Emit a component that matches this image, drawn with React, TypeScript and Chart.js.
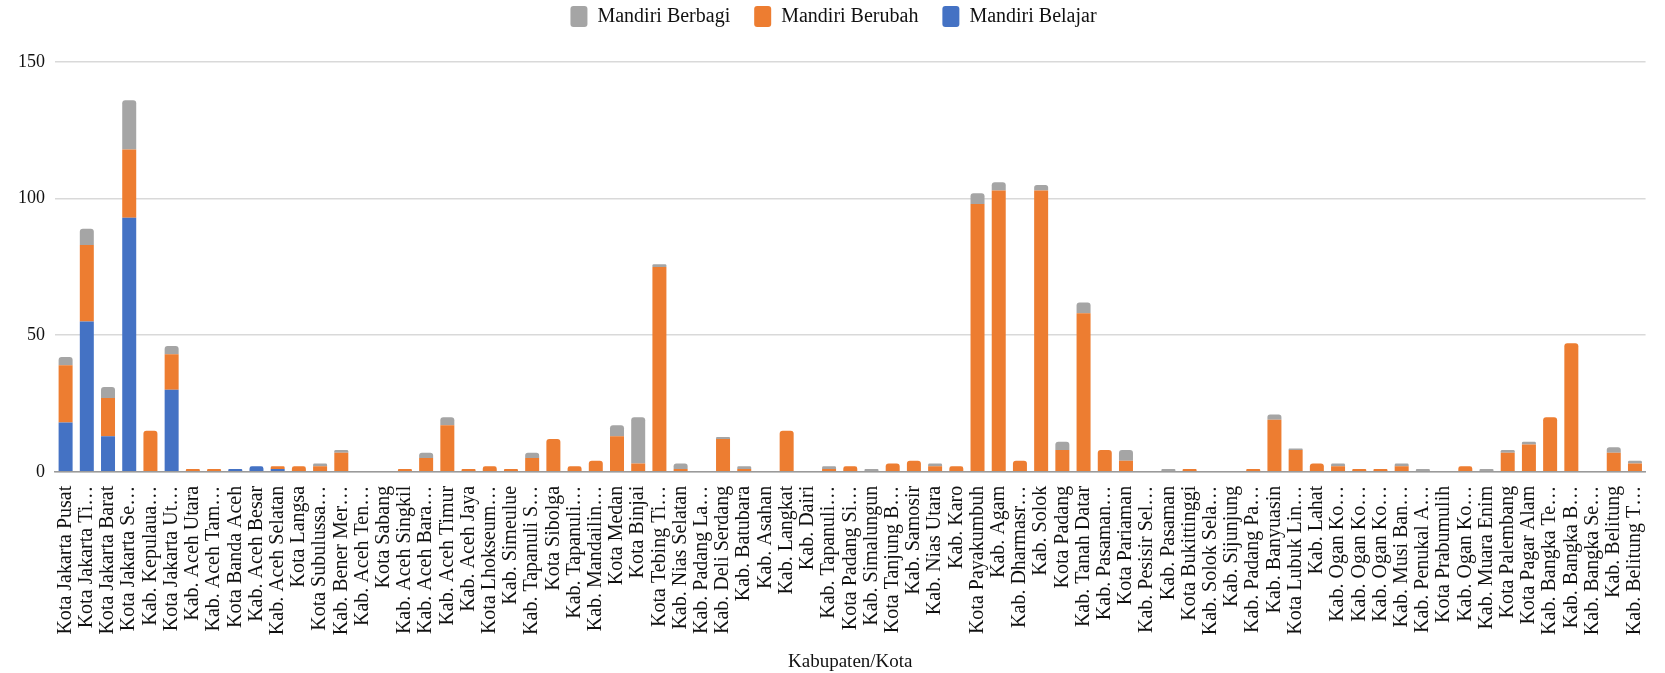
import React, { useEffect, useRef } from "react";
import { Chart, registerables } from "chart.js";

Chart.register(...registerables);

const categories: string[] = [
  "Kota Jakarta Pusat", "Kota Jakarta Ti…", "Kota Jakarta Barat", "Kota Jakarta Se…", "Kab. Kepulaua…",
  "Kota Jakarta Ut…", "Kab. Aceh Utara", "Kab. Aceh Tam…", "Kota Banda Aceh", "Kab. Aceh Besar",
  "Kab. Aceh Selatan", "Kota Langsa", "Kota Subulussa…", "Kab. Bener Mer…", "Kab. Aceh Ten…",
  "Kota Sabang", "Kab. Aceh Singkil", "Kab. Aceh Bara…", "Kab. Aceh Timur", "Kab. Aceh Jaya",
  "Kota Lhokseum…", "Kab. Simeulue", "Kab. Tapanuli S…", "Kota Sibolga", "Kab. Tapanuli…",
  "Kab. Mandailin…", "Kota Medan", "Kota Binjai", "Kota Tebing Ti…", "Kab. Nias Selatan",
  "Kab. Padang La…", "Kab. Deli Serdang", "Kab. Batubara", "Kab. Asahan", "Kab. Langkat",
  "Kab. Dairi", "Kab. Tapanuli…", "Kota Padang Si…", "Kab. Simalungun", "Kota Tanjung B…",
  "Kab. Samosir", "Kab. Nias Utara", "Kab. Karo", "Kota Payakumbuh", "Kab. Agam",
  "Kab. Dharmasr…", "Kab. Solok", "Kota Padang", "Kab. Tanah Datar", "Kab. Pasaman…",
  "Kota Pariaman", "Kab. Pesisir Sel…", "Kab. Pasaman", "Kota Bukittinggi", "Kab. Solok Sela…",
  "Kab. Sijunjung", "Kab. Padang Pa…", "Kab. Banyuasin", "Kota Lubuk Lin…", "Kab. Lahat",
  "Kab. Ogan Ko…", "Kab. Ogan Ko…", "Kab. Ogan Ko…", "Kab. Musi Ban…", "Kab. Penukal A…",
  "Kota Prabumulih", "Kab. Ogan Ko…", "Kab. Muara Enim", "Kota Palembang", "Kota Pagar Alam",
  "Kab. Bangka Te…", "Kab. Bangka B…", "Kab. Bangka Se…", "Kab. Belitung", "Kab. Belitung T…",
];

const mandiriBelajar: number[] = [
  18, 55, 13, 93, 0, 30, 0, 0, 1, 2,
  1, 0, 0, 0, 0, 0, 0, 0, 0, 0,
  0, 0, 0, 0, 0, 0, 0, 0, 0, 0,
  0, 0, 0, 0, 0, 0, 0, 0, 0, 0,
  0, 0, 0, 0, 0, 0, 0, 0, 0, 0,
  0, 0, 0, 0, 0, 0, 0, 0, 0, 0,
  0, 0, 0, 0, 0, 0, 0, 0, 0, 0,
  0, 0, 0, 0, 0,
];

const mandiriBerubah: number[] = [
  21, 28, 14, 25, 15, 13, 1, 1, 0, 0,
  1, 2, 2, 7, 0, 0, 1, 5, 17, 1,
  2, 1, 5, 12, 2, 4, 13, 3, 75, 1,
  0, 12, 1, 0, 15, 0, 1, 2, 0, 3,
  4, 2, 2, 98, 103, 4, 103, 8, 58, 8,
  4, 0, 0, 1, 0, 0, 1, 19, 8, 3,
  2, 1, 1, 2, 0, 0, 2, 0, 7, 10,
  20, 47, 0, 7, 3,
];

const mandiriBerbagi: number[] = [
  3, 6, 4, 18, 0, 3, 0, 0, 0, 0,
  0, 0, 1, 1, 0, 0, 0, 2, 3, 0,
  0, 0, 2, 0, 0, 0, 4, 17, 1, 2,
  0, 0.7, 1, 0, 0, 0, 1, 0, 1, 0,
  0, 1, 0, 4, 3, 0, 2, 3, 4, 0,
  4, 0, 1, 0, 0, 0, 0, 2, 0.5, 0,
  1, 0, 0, 1, 1, 0, 0, 1, 1, 1,
  0, 0, 0, 2, 1,
];

const yTicks: number[] = [0, 50, 100, 150];

const FONT = "'Liberation Serif', 'Times New Roman', serif";

const legendSpacer = {
  id: "legendSpacer",
  beforeInit(chart: any) {
    const legend = chart.legend;
    if (!legend) return;
    const origFit = legend.fit;
    legend.fit = function () {
      origFit.call(this);
      this.height += 25;
    };
  },
};

export default function App() {
  const ref = useRef<HTMLCanvasElement>(null);

  useEffect(() => {
    document.body.style.margin = "0";
    const ctx = ref.current;
    if (!ctx) return;
    const common = {
      barPercentage: 0.66,
      categoryPercentage: 1,
      borderRadius: 3,
      borderSkipped: "start" as const,
    };
    const chart = new Chart(ctx, {
      type: "bar",
      data: {
        labels: categories,
        datasets: [
          { label: "Mandiri Belajar", data: mandiriBelajar, backgroundColor: "#4472C4", ...common },
          { label: "Mandiri Berubah", data: mandiriBerubah, backgroundColor: "#ED7D31", ...common },
          { label: "Mandiri Berbagi", data: mandiriBerbagi, backgroundColor: "#A5A5A5", ...common },
        ],
      },
      plugins: [legendSpacer],
      options: {
        animation: false,
        responsive: true,
        maintainAspectRatio: false,
        layout: { padding: { left: 8, right: 6, top: -18, bottom: 0 } },
        plugins: {
          legend: {
            position: "top",
            reverse: true,
            labels: {
              font: { family: FONT, size: 20 },
              color: "#111",
              boxWidth: 17,
              boxHeight: 21,
              useBorderRadius: true,
              borderRadius: 3,
              padding: 24,
            },
          },
          tooltip: { enabled: false },
        },
        scales: {
          x: {
            stacked: true,
            grid: { display: false },
            border: { display: true, color: "#9a9a9a", width: 1.5 },
            ticks: {
              autoSkip: false,
              minRotation: 90,
              maxRotation: 90,
              font: { family: FONT, size: 20 },
              color: "#111",
              padding: 6,
            },
            title: {
              display: true,
              text: "Kabupaten/Kota",
              font: { family: FONT, size: 19 },
              color: "#111",
              padding: { top: 9, bottom: 0 },
            },
          },
          y: {
            stacked: true,
            min: 0,
            max: 150,
            afterBuildTicks: (axis: any) => {
              axis.ticks = yTicks.map((v) => ({ value: v }));
            },
            grid: { color: "#d9d9d9", lineWidth: 1.5, drawTicks: false },
            border: { display: false },
            ticks: {
              font: { family: FONT, size: 18 },
              color: "#111",
              padding: 10,
            },
          },
        },
      },
    });
    return () => chart.destroy();
  }, []);

  return (
    <div style={{ width: 1665, height: 673, position: "relative" }}>
      <canvas ref={ref} />
    </div>
  );
}
